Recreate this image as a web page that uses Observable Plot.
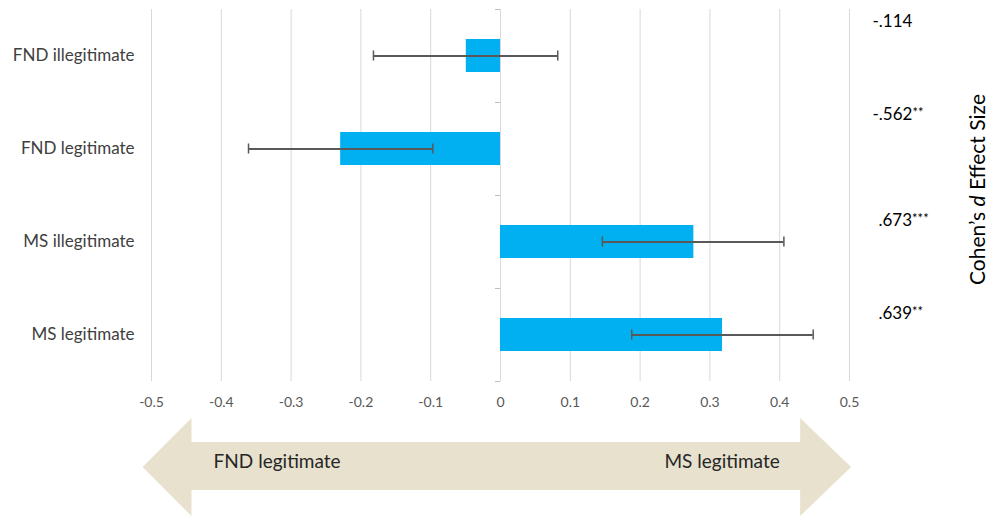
<!DOCTYPE html>
<html><head><meta charset="utf-8">
<script src="https://cdn.jsdelivr.net/npm/d3@7"></script>
<script src="https://cdn.jsdelivr.net/npm/@observablehq/plot@0.6"></script>
<style>html,body{margin:0;padding:0;background:#fff;} #chart{width:991px;height:517px;}</style>
</head><body><div id="chart"></div>
<script>
const categories = ["FND illegitimate", "FND legitimate", "MS illegitimate", "MS legitimate"];
const meanDiff = [-0.049, -0.229, 0.277, 0.318];
const ciLow = [-0.182, -0.361, 0.146, 0.188];
const ciHigh = [0.082, -0.097, 0.406, 0.448];
const effectSizes = ["-.114", "-.562**", ".673***", ".639**"];
const xTicks = [-0.5, -0.4, -0.3, -0.2, -0.1, 0, 0.1, 0.2, 0.3, 0.4, 0.5];
const xTickLabels = ["-0.5", "-0.4", "-0.3", "-0.2", "-0.1", "0", "0.1", "0.2", "0.3", "0.4", "0.5"];
const axisTitle = "Cohen’s d Effect Size";
const arrowLabels = ["FND legitimate", "MS legitimate"];
const arrowEnds = [-0.512, 0.503];     // arrow tips on the x scale
const arrowHeadBases = [-0.442, 0.43]; // where arrow heads start

const rows = categories.map((c, i) => ({cat: c, value: meanDiff[i], lo: ciLow[i], hi: ciHigh[i], es: effectSizes[i]}));
const ns = "http://www.w3.org/2000/svg";

function arrowMark(index, scales, values, dims) {
  const x = scales.x;
  const H = dims.height;
  const tipY = H - 50, headTop = H - 99, shaftTop = H - 75, shaftBot = H - 27, headBot = H - 1;
  const pts = [
    [x(arrowEnds[0]), tipY], [x(arrowHeadBases[0]), headTop], [x(arrowHeadBases[0]), shaftTop],
    [x(arrowHeadBases[1]), shaftTop], [x(arrowHeadBases[1]), headTop], [x(arrowEnds[1]), tipY],
    [x(arrowHeadBases[1]), headBot], [x(arrowHeadBases[1]), shaftBot], [x(arrowHeadBases[0]), shaftBot],
    [x(arrowHeadBases[0]), headBot]
  ];
  const p = document.createElementNS(ns, "polygon");
  p.setAttribute("points", pts.map(d => d.join(",")).join(" "));
  p.setAttribute("fill", "#E7E1CE");
  return p;
}

const boundaryDy = 46.5;

const chart = Plot.plot({
  width: 991, height: 517,
  marginLeft: 151, marginRight: 142, marginTop: 9, marginBottom: 136,
  style: {fontFamily: "Lato, 'Open Sans', sans-serif", background: "white", color: "#595959", overflow: "visible"},
  x: {domain: [-0.5, 0.5], axis: null},
  y: {domain: categories, paddingInner: 0.645, paddingOuter: 0.3225, round: false, axis: null},
  marks: [
    arrowMark,
    Plot.ruleX(xTicks, {stroke: "#d9d9d9", strokeWidth: 1}),
    Plot.axisX(xTicks, {tickSize: 0, tickPadding: 16, fontSize: 14, fill: "#595959",
      tickFormat: d => xTickLabels[xTicks.indexOf(d)], label: null}),
    Plot.axisY({tickSize: 0, tickPadding: 17, fontSize: 17, fill: "#404040", label: null}),
    Plot.ruleY(categories, {y: d => d, x1: -0.0072, x2: 0, dy: -boundaryDy, stroke: "#bfbfbf"}),
    Plot.ruleY(categories.slice(-1), {y: d => d, x1: -0.0072, x2: 0, dy: boundaryDy, stroke: "#bfbfbf"}),
    Plot.barX(rows, {x: "value", y: "cat", fill: "#00B0F0"}),
    Plot.ruleY(rows, {y: "cat", x1: "lo", x2: "hi", stroke: "#595959", strokeWidth: 2}),
    Plot.tickX(rows, {x: "lo", y: "cat", stroke: "#595959", strokeWidth: 1.5, insetTop: 11.5, insetBottom: 11.5}),
    Plot.tickX(rows, {x: "hi", y: "cat", stroke: "#595959", strokeWidth: 1.5, insetTop: 11.5, insetBottom: 11.5}),
    Plot.text(rows.filter(d => d.value < 0), {y: "cat", text: "es", frameAnchor: "right", textAnchor: "start",
      dx: 23, dy: -34, fontSize: 17, fill: "#000"}),
    Plot.text(rows.filter(d => d.value >= 0), {y: "cat", text: "es", frameAnchor: "right", textAnchor: "start",
      dx: 29, dy: -21, fontSize: 17, fill: "#000"}),
    Plot.text([axisTitle], {frameAnchor: "top-right", textAnchor: "middle", rotate: -90, dx: 121, dy: 180, fontSize: 21, fill: "#000"}),
    Plot.text([arrowLabels[0]], {x: -0.411, frameAnchor: "bottom", textAnchor: "start", dy: 86, fontSize: 19, fill: "#262626"}),
    Plot.text([arrowLabels[1]], {x: 0.40, frameAnchor: "bottom", textAnchor: "end", dy: 86, fontSize: 19, fill: "#262626"})
  ]
});

// superscript asterisks and italic "d"
chart.querySelectorAll("text").forEach(t => {
  const s = t.textContent;
  const m = s.match(/^([-.\d]+)(\*+)$/);
  if (m) {
    t.textContent = m[1];
    const sp = document.createElementNS(ns, "tspan");
    sp.setAttribute("font-size", "13");
    sp.setAttribute("dy", "-0.3em");
    sp.textContent = m[2];
    t.appendChild(sp);
  } else if (s === axisTitle) {
    const parts = s.split(" d ");
    t.textContent = parts[0] + " ";
    const it = document.createElementNS(ns, "tspan");
    it.setAttribute("font-style", "italic");
    it.textContent = "d";
    t.appendChild(it);
    t.appendChild(document.createTextNode(" " + parts[1]));
  }
});

document.getElementById("chart").appendChild(chart);
</script>
</body></html>
